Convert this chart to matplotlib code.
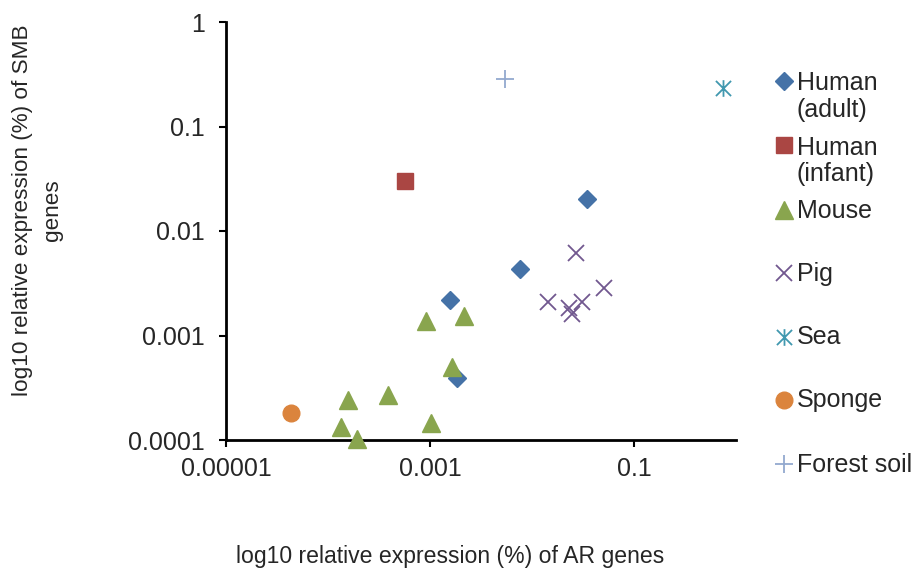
import matplotlib
matplotlib.use("Agg")
import matplotlib.pyplot as plt
from matplotlib.path import Path
from matplotlib.lines import Line2D

plt.rcParams['font.family'] = ['Liberation Sans', 'DejaVu Sans']

# Data (x: AR genes %, y: SMB genes %)
human_adult_x = [0.0343, 0.0076, 0.00157, 0.00184]
human_adult_y = [0.0204, 0.00432, 0.00218, 0.000395]
human_infant_x = [0.000565]
human_infant_y = [0.0299]
mouse_x = [0.000912, 0.00214, 0.00164, 0.000388, 0.000157, 0.000135, 0.000193, 0.00103]
mouse_y = [0.00139, 0.00152, 0.000503, 0.000271, 0.000241, 0.000133, 0.000103, 0.000144]
pig_x = [0.0267, 0.0142, 0.0230, 0.0248, 0.0311, 0.0503]
pig_y = [0.00615, 0.00211, 0.00183, 0.00161, 0.00207, 0.00284]
sea_x = [0.738]
sea_y = [0.235]
sponge_x = [4.32e-5]
sponge_y = [0.000182]
forest_x = [0.00547]
forest_y = [0.282]

x_ticks = [1e-5, 1e-3, 1e-1]
x_tick_labels = ["0.00001", "0.001", "0.1"]
y_ticks = [1e-4, 1e-3, 1e-2, 1e-1, 1]
y_tick_labels = ["0.0001", "0.001", "0.01", "0.1", "1"]

asterisk = Path([(-1, -1), (1, 1), (-1, 1), (1, -1), (0, -1.1), (0, 1.1)],
                [Path.MOVETO, Path.LINETO, Path.MOVETO, Path.LINETO, Path.MOVETO, Path.LINETO])

series = [
    (["Human", "(adult)"], human_adult_x, human_adult_y, dict(marker='D', ms=9, color='#4572A7', mec='#4572A7')),
    (["Human", "(infant)"], human_infant_x, human_infant_y, dict(marker='s', ms=12, color='#AA4643', mec='#AA4643')),
    (["Mouse"], mouse_x, mouse_y, dict(marker='^', ms=12.5, color='#89A54E', mec='#89A54E')),
    (["Pig"], pig_x, pig_y, dict(marker='x', ms=11, color='#71588F', mew=1.3)),
    (["Sea"], sea_x, sea_y, dict(marker=asterisk, ms=12, color='#4198AF', mew=1.3)),
    (["Sponge"], sponge_x, sponge_y, dict(marker='o', ms=12, color='#DB843D', mec='#DB843D')),
    (["Forest soil"], forest_x, forest_y, dict(marker='+', ms=12.5, color='#93A9CF', mew=1.3)),
]

W, H = 918, 570
TXT = '#262626'
fig = plt.figure(figsize=(W / 100, H / 100), dpi=100)
ax = fig.add_axes([226 / W, 1 - 440 / H, (736 - 226) / W, (440 - 22) / H])

for name, xs, ys, st in series:
    ax.plot(xs, ys, linestyle='none', clip_on=False, zorder=3, **st)

ax.set_xscale('log')
ax.set_yscale('log')
ax.set_xlim(1e-5, 1)
ax.set_ylim(1e-4, 1)
ax.set_xticks(x_ticks)
ax.set_xticklabels(x_tick_labels)
ax.set_yticks(y_ticks)
ax.set_yticklabels(y_tick_labels)
ax.minorticks_off()
for s in ['top', 'right']:
    ax.spines[s].set_visible(False)
for s in ['left', 'bottom']:
    ax.spines[s].set_linewidth(2)
    ax.spines[s].set_color('black')
ax.tick_params(direction='out', length=5, width=1.5, labelsize=18, colors='black',
               labelcolor=TXT)
ax.tick_params(axis='y', pad=10)
ax.tick_params(axis='x', pad=7)

fig.text(450 / W, 1 - 557 / H, "log10 relative expression (%) of AR genes",
         ha='center', va='center', fontsize=16.6, color=TXT)
fig.text(23 / W, 1 - 210 / H, "log10 relative expression (%) of SMB",
         ha='center', va='center', rotation=90, fontsize=16.2, color=TXT)
fig.text(53 / W, 1 - 210 / H, "genes",
         ha='center', va='center', rotation=90, fontsize=16.2, color=TXT)

# Manual legend (marker centre y in pixels, first-line baseline offsets)
leg_y = [80.7, 145, 210, 273.3, 336.7, 399.5, 464]
for (lines, xs, ys, st), yy in zip(series, leg_y):
    fig.add_artist(Line2D([784 / W], [1 - yy / H], linestyle='none',
                          transform=fig.transFigure, **st))
    base = yy + (9.5 if len(lines) > 1 else 7.5)
    for i, ln in enumerate(lines):
        fig.text(797 / W, 1 - (base + 26.5 * i) / H, ln, ha='left', va='baseline',
                 fontsize=18, color=TXT)

fig.savefig("out.png", dpi=100)
